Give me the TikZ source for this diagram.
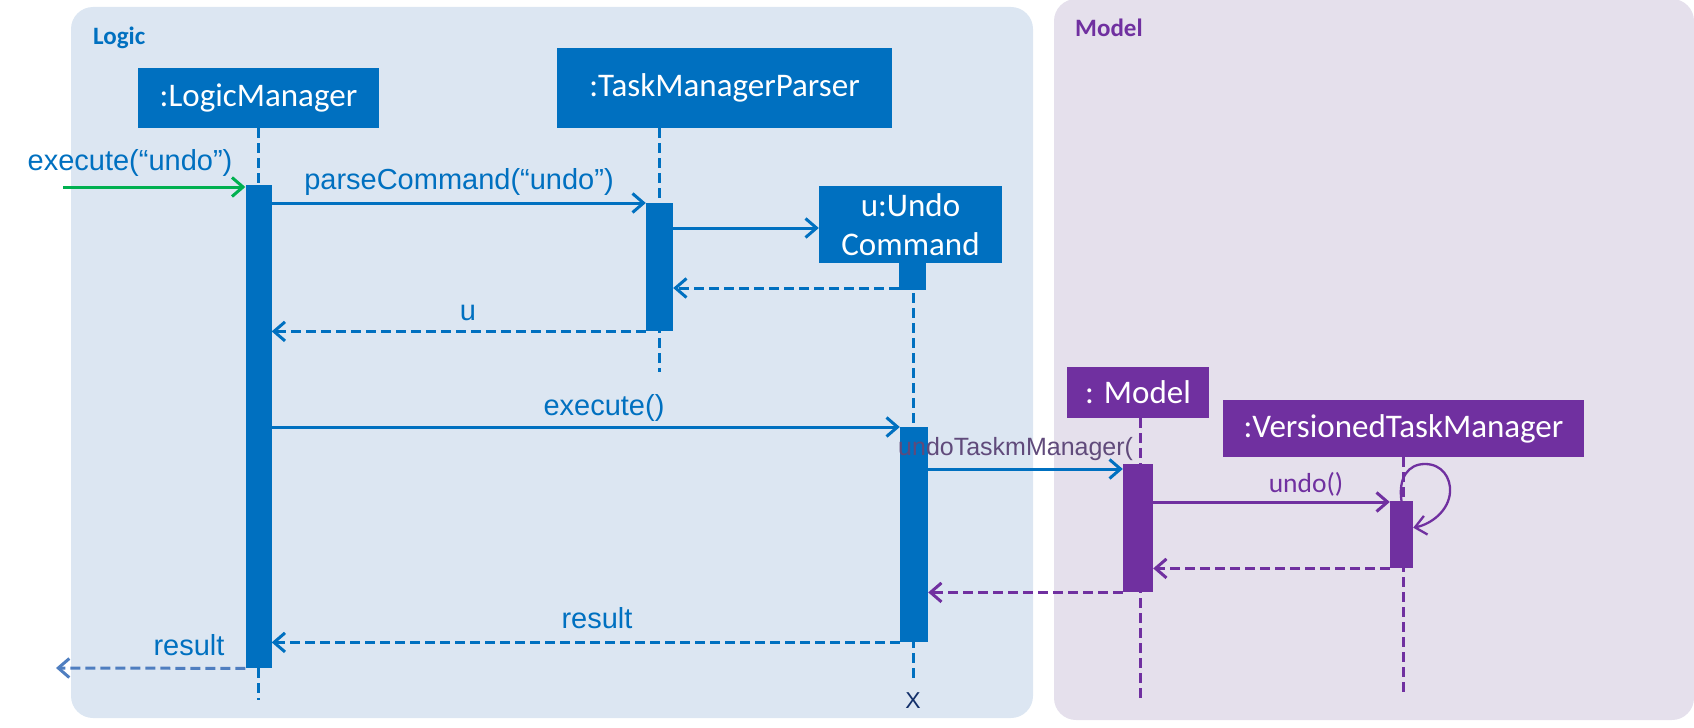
\documentclass[tikz,border=0pt]{standalone}
\usepackage{fontspec}
\setmainfont{Liberation Sans}
\newfontfamily\boxfont{Carlito}
\usetikzlibrary{arrows.meta}
\definecolor{lblue}{HTML}{0070C0}
\definecolor{lpurple}{HTML}{7030A0}
\definecolor{lgreen}{HTML}{00B050}
\definecolor{softblue}{HTML}{4F7EC0}
\definecolor{dimpurple}{HTML}{604A7B}
\definecolor{navy}{HTML}{13306A}
\definecolor{logicfill}{HTML}{DCE6F2}
\definecolor{modelfill}{HTML}{E5E0EC}
\begin{document}
\begin{tikzpicture}[x=1bp,y=-1bp,
  panel/.style={fill=#1, draw=none, rounded corners=22bp},
  paneltitle/.style={font=\boxfont\bfseries\fontsize{25bp}{30bp}\selectfont, text=#1, anchor=base west, inner sep=0},
  obj/.style={fill=#1, draw=none, text=white, inner sep=0, align=center,
    font=\boxfont\fontsize{33bp}{40bp}\selectfont},
  act/.style={fill=#1, draw=none, inner sep=0, anchor=north},
  life/.style={draw=#1, line width=3bp, dash pattern=on 10bp off 5bp},
  msg/.style={draw=#1, line width=3bp, -{Straight Barb[length=11bp,width=19bp]}},
  ret/.style={msg=#1, dash pattern=on 10bp off 5bp},
  lab/.style={font=\fontsize{29bp}{34bp}\selectfont, text=#1, anchor=base, inner sep=0}
]
\useasboundingbox (0,0) rectangle (1694,728);

% component panels
\path[panel=logicfill] (71,7) rectangle (1033,718);
\path[panel=modelfill] (1054,-1) rectangle (1694,720);
\node[paneltitle=lblue] (logictitle) at (93,45) {Logic};
\node[paneltitle=lpurple] (modeltitle) at (1075,37) {Model};

% participants
\node[obj=lblue, minimum width=241bp, minimum height=60bp] (lmbox) at (258.5,98) {:LogicManager};
\node[obj=lblue, minimum width=335bp, minimum height=80bp] (tmpbox) at (724.5,88) {:TaskManagerParser};
\node[obj=lblue, minimum width=183bp, minimum height=77bp] (ucbox) at (910.5,224.5) {u:Undo\\[-1bp]Command};
\node[obj=lpurple, minimum width=142bp, minimum height=51bp] (mbox) at (1138,392.5) {: Model};
\node[obj=lpurple, minimum width=361bp, minimum height=57bp] (vbox) at (1403.5,428.5) {:VersionedTaskManager};

% lifeline ends
\coordinate (lmend) at (258.5,700);
\coordinate (tmpend) at (659,372);
\coordinate (ucend) at (913,678);
\coordinate (mend) at (1140,700);
\coordinate (vend) at (1403,692);

% lifelines
\draw[life=lblue] (lmbox.south -| lmend) -- (lmend);
\draw[life=lblue] (tmpbox.south -| tmpend) -- (tmpend);
\draw[life=lblue] (ucbox.south -| ucend) -- (ucend);
\draw[life=lpurple] (mbox.south -| mend) -- (mend);
\draw[life=lpurple] (vbox.south -| vend) -- (vend);

% activation bars
\node[act=lblue, minimum width=26bp, minimum height=483bp] (lmact) at (258.5,185) {};
\node[act=lblue, minimum width=27bp, minimum height=128bp] (tmpact) at (659.5,203) {};
\node[act=lblue, minimum width=27bp, minimum height=27bp] (ucact0) at (912.5,263) {};
\node[act=lblue, minimum width=28bp, minimum height=215bp] (ucact) at (914,427) {};
\node[act=lpurple, minimum width=30bp, minimum height=128bp] (mact) at (1138,464) {};
\node[act=lpurple, minimum width=23bp, minimum height=67bp] (vact) at (1401.5,501) {};

% messages
\coordinate (in) at (63,187);
\coordinate (out) at (56,668);
\draw[msg=lgreen] (in) -- (in -| lmact.west);
\draw[msg=lblue] (lmact.east |- tmpact.north) -- (tmpact.north west);
\draw[msg=lblue] (tmpact.east |- 0,228) -- (ucbox.west |- 0,228);
\draw[ret=lblue] (ucact0.west |- 0,288) -- (tmpact.east |- 0,288);
\draw[ret=lblue] (tmpact.south west) -- (lmact.east |- tmpact.south);
\draw[msg=lblue] (lmact.east |- ucact.north) -- (ucact.north west);
\draw[msg=lblue] (ucact.east |- 0,469) -- (mact.west |- 0,469);
\draw[msg=lpurple] (mact.east |- 0,502) -- (vact.west |- 0,502);
\draw[ret=lpurple] (vact.south west) -- (mact.east |- vact.south);
\draw[ret=lpurple] (mact.south west) -- (ucact.east |- mact.south);
\draw[ret=lblue] (ucact.south west) -- (lmact.east |- ucact.south);
\draw[ret=softblue] (lmact.south west) -- (out);

% self call on the versioned task manager
\draw[msg=lpurple, line width=2.3bp]
  (vact.north) .. controls (1398,478) and (1408,464) .. (1425,464)
  .. controls (1442,464) and (1451,478) .. (1450,492)
  .. controls (1449,510) and (1432,524) .. ([yshift=7bp]vact.east);

% message labels
\node[lab=lblue] (l1) at (130,170) {execute(“undo”)};
\node[lab=lblue] (l2) at (459,189) {parseCommand(“undo”)};
\node[lab=lblue] (l3) at (468,320) {u};
\node[lab=lblue] (l4) at (604,415) {execute()};
\node[lab=dimpurple, anchor=base west, font=\fontsize{25bp}{30bp}\selectfont] (l5) at (898,455) {undoTaskmManager(};
\node[lab=lpurple, font=\boxfont\fontsize{27.5bp}{32bp}\selectfont] (l6) at (1306,492) {undo()};
\node[lab=lblue] (l7) at (597,628) {result};
\node[lab=lblue] (l8) at (189,655) {result};
\node[lab=navy, font=\fontsize{23bp}{28bp}\selectfont] (xmark) at (913,708) {X};
\end{tikzpicture}
\end{document}
